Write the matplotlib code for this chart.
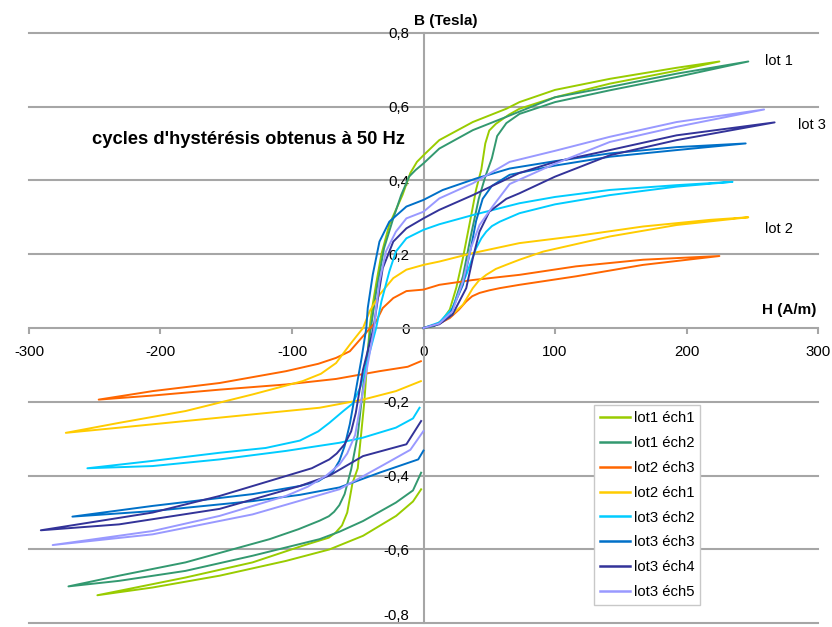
import matplotlib
matplotlib.use("Agg")
import matplotlib.pyplot as plt
from matplotlib.ticker import FuncFormatter

plt.rcParams['font.family'] = ['Liberation Sans', 'DejaVu Sans']
plt.rcParams['axes.unicode_minus'] = False

# each loop: first magnetisation from (0,0), descending branch, ascending branch back to H=0
l1e1_H = [0, 8, 14, 20, 25, 30, 36, 40, 44, 47, 50, 55, 65, 73, 100, 141.7, 192.5, 225,
          192.5, 141.7, 100, 73, 63, 37.5, 12, 0, -5, -10, -16, -26, -32, -36, -39, -41, -45, -50, -54, -58, -62, -67, -72, -92, -130, -181, -248,
          -206, -155, -104.6, -71.6, -46, -20.8, -8, -1.8]
l1e1_B = [0, 0.006, 0.02, 0.05, 0.11, 0.19, 0.30, 0.375, 0.43, 0.50, 0.535, 0.553, 0.578, 0.594, 0.625, 0.662, 0.697, 0.722,
          0.705, 0.675, 0.645, 0.612, 0.594, 0.558, 0.509, 0.468, 0.45, 0.42, 0.36, 0.28, 0.20, 0.12, 0.055, 0.0, -0.2, -0.38, -0.42, -0.50, -0.535, -0.555, -0.568, -0.59, -0.635, -0.676, -0.724,
          -0.703, -0.671, -0.631, -0.60, -0.563, -0.509, -0.47, -0.437]

l1e2_H = [0, 8, 15, 22, 30, 36, 42, 47, 52, 56, 63, 73, 100, 141.7, 192.5, 247,
          192.5, 141.7, 100, 63, 37.5, 12, 0, -6, -11, -17, -23, -30, -36, -40, -45, -50, -55, -60, -64, -68, -72, -79, -95, -117, -181, -231.5, -270,
          -231.5, -181, -130, -79, -64, -46, -21, -8, -1.8]
l1e2_B = [0, 0.005, 0.02, 0.05, 0.14, 0.25, 0.35, 0.41, 0.46, 0.52, 0.555, 0.58, 0.612, 0.644, 0.68, 0.722,
          0.689, 0.653, 0.625, 0.572, 0.536, 0.486, 0.446, 0.428, 0.41, 0.36, 0.297, 0.216, 0.099, 0.0, -0.13, -0.29, -0.383, -0.45, -0.48, -0.498, -0.51, -0.522, -0.545, -0.572, -0.635, -0.671, -0.70,
          -0.685, -0.658, -0.617, -0.572, -0.552, -0.523, -0.473, -0.44, -0.392]

l2e3_H = [0, 12, 20, 27, 32.5, 37, 42.6, 50, 58, 73, 116, 167, 225,
          167, 116, 73, 37.5, 12, 0, -13, -23, -31, -36, -45, -56, -66.5, -80, -104.6, -155, -206, -247,
          -206, -155, -104.6, -66.5, -33.5, -12, -2]
l2e3_B = [0, 0.012, 0.027, 0.05, 0.072, 0.086, 0.095, 0.102, 0.108, 0.117, 0.14, 0.171, 0.195,
          0.185, 0.167, 0.144, 0.13, 0.117, 0.104, 0.10, 0.081, 0.054, 0.018, -0.018, -0.063, -0.081, -0.097, -0.117, -0.149, -0.171, -0.194,
          -0.183, -0.167, -0.153, -0.138, -0.117, -0.105, -0.09]

l2e1_H = [0, 12, 20, 30, 37.5, 42, 47.7, 55, 62.8, 73, 91, 141.7, 192.5, 247,
          218, 167, 116, 73, 37.5, 12, 0, -13, -23, -33.5, -41, -46, -56, -66.5, -78, -92, -130, -181, -231.5, -272,
          -231.5, -181, -130, -79, -46, -21, -2]
l2e1_B = [0, 0.012, 0.031, 0.063, 0.108, 0.128, 0.144, 0.16, 0.171, 0.185, 0.207, 0.248, 0.279, 0.30,
          0.293, 0.275, 0.249, 0.23, 0.203, 0.18, 0.171, 0.158, 0.135, 0.09, 0.045, 0.0, -0.045, -0.095, -0.124, -0.144, -0.18, -0.225, -0.257, -0.284,
          -0.27, -0.252, -0.234, -0.216, -0.194, -0.171, -0.144]

l3e2_H = [0, 12, 22, 32.5, 40, 44, 47.7, 52, 58, 73, 100, 141.7, 192.5, 235,
          192.5, 141.7, 100, 73, 37.5, 12, 0, -13, -21, -26, -32, -36, -42, -48, -54, -61, -71.6, -80, -94, -120, -155, -206, -255.6,
          -206, -155, -104.6, -64, -46, -21, -8, -3]
l3e2_B = [0, 0.015, 0.054, 0.144, 0.216, 0.243, 0.261, 0.276, 0.288, 0.311, 0.335, 0.36, 0.383, 0.396,
          0.387, 0.374, 0.355, 0.338, 0.306, 0.281, 0.266, 0.243, 0.207, 0.153, 0.072, 0.0, -0.08, -0.16, -0.205, -0.225, -0.257, -0.28, -0.305, -0.325, -0.338, -0.36, -0.38,
          -0.374, -0.356, -0.333, -0.311, -0.297, -0.27, -0.245, -0.216]

l3e3_H = [0, 12, 20, 30, 36, 40, 45, 52, 65.5, 100, 141.7, 192.5, 245,
          192.5, 141.7, 100, 65.5, 40, 14.7, 0, -13, -26, -33.5, -38.6, -42.4, -43.5, -47, -52, -56, -60, -64, -69, -80, -94, -130, -206, -267,
          -206, -130, -94, -64, -33.5, -4, 0]
l3e3_B = [0, 0.012, 0.036, 0.117, 0.216, 0.29, 0.35, 0.385, 0.415, 0.44, 0.464, 0.482, 0.50,
          0.49, 0.473, 0.452, 0.432, 0.405, 0.374, 0.347, 0.329, 0.288, 0.234, 0.144, 0.054, 0.0, -0.08, -0.18, -0.26, -0.32, -0.36, -0.39, -0.415, -0.428, -0.45, -0.482, -0.511,
          -0.496, -0.469, -0.452, -0.432, -0.392, -0.356, -0.332]

l3e4_H = [0, 12, 22, 32.5, 37.5, 42.6, 50, 63, 73, 100, 141.7, 192.5, 267,
          192.5, 141.7, 100, 73, 37.5, 12, 0, -13, -23, -31, -35, -38, -46, -51.5, -55, -60, -66, -71.6, -85, -104.6, -155, -206, -291,
          -231.5, -155, -94, -71.6, -46, -13, -1.8]
l3e4_B = [0, 0.01, 0.036, 0.108, 0.189, 0.261, 0.315, 0.35, 0.365, 0.41, 0.468, 0.509, 0.557,
          0.522, 0.482, 0.45, 0.42, 0.36, 0.32, 0.297, 0.27, 0.234, 0.162, 0.072, 0.0, -0.113, -0.23, -0.28, -0.315, -0.34, -0.356, -0.38, -0.401, -0.455, -0.5, -0.548,
          -0.532, -0.49, -0.428, -0.40, -0.347, -0.315, -0.252]

l3e5_H = [0, 12, 22, 30, 36, 42.6, 52.7, 65.5, 100, 141.7, 192.5, 259,
          192.5, 141.7, 100, 65.5, 37.5, 12, 0, -13, -21, -28.6, -33.5, -36, -37.5, -45, -52, -58, -64, -74, -88, -104.6, -155, -206, -282,
          -206, -130, -64, -30, -10, 0]
l3e5_B = [0, 0.012, 0.045, 0.126, 0.216, 0.279, 0.33, 0.39, 0.445, 0.504, 0.545, 0.592,
          0.558, 0.518, 0.48, 0.45, 0.392, 0.351, 0.315, 0.297, 0.261, 0.207, 0.126, 0.054, 0.0, -0.15, -0.29, -0.34, -0.37, -0.40, -0.43, -0.455, -0.509, -0.55, -0.588,
          -0.559, -0.505, -0.437, -0.37, -0.33, -0.279]

labels = ['lot1 éch1', 'lot1 éch2', 'lot2 éch3', 'lot2 éch1',
          'lot3 éch2', 'lot3 éch3', 'lot3 éch4', 'lot3 éch5']
colors = ['#99CC00', '#339970', '#FF6600', '#FFCC00',
          '#00CCFF', '#0070C8', '#333399', '#9999FF']
series = [(l1e1_H, l1e1_B), (l1e2_H, l1e2_B), (l2e3_H, l2e3_B), (l2e1_H, l2e1_B),
          (l3e2_H, l3e2_B), (l3e3_H, l3e3_B), (l3e4_H, l3e4_B), (l3e5_H, l3e5_B)]

grey = '#a6a6a6'

fig = plt.figure(figsize=(8.32, 6.27), dpi=100)
ax = fig.add_axes([29/832, 1-623.3/627, (818-29)/832, (623.3-32.7)/627])
ax.set_xlim(-300, 300)
ax.set_ylim(-0.8, 0.8)

# horizontal grid
for v in [-0.8, -0.6, -0.4, -0.2, 0.2, 0.4, 0.6, 0.8]:
    ax.axhline(v, color=grey, lw=1.5, clip_on=False, zorder=1)

for (h, b), lab, c in zip(series, labels, colors):
    ax.plot(h, b, color=c, lw=1.4, label=lab, zorder=3, solid_joinstyle='round')

ax.spines['left'].set_position(('data', 0))
ax.spines['bottom'].set_position(('data', 0))
ax.spines['right'].set_visible(False)
ax.spines['top'].set_visible(False)
for s in ['left', 'bottom']:
    ax.spines[s].set_color(grey)
    ax.spines[s].set_linewidth(1.5)
    ax.spines[s].set_zorder(2)

ax.set_xticks([-300, -200, -100, 0, 100, 200, 300])
ax.set_yticks([-0.8, -0.6, -0.4, -0.2, 0, 0.2, 0.4, 0.6, 0.8])
ax.xaxis.set_major_formatter(FuncFormatter(lambda v, p: '%d' % v))
ax.yaxis.set_major_formatter(FuncFormatter(lambda v, p: '0' if abs(v) < 1e-9 else ('%.1f' % v).replace('.', ',')))
ax.tick_params(axis='x', direction='out', length=4.5, width=1.5, color=grey, labelsize=10.8, pad=8)
ax.tick_params(axis='y', length=0, labelsize=10.8, pad=10)
# bottom label sits on the figure edge, lift it a little so it stays readable
ax.get_yticklabels()[0].set_verticalalignment('bottom')

ax.text(-6.9, 0.833, 'B (Tesla)', fontsize=11, fontweight='bold', va='center', ha='left', clip_on=False)
ax.text(299, 0.049, 'H (A/m)', fontsize=11, fontweight='bold', va='center', ha='right')
ax.text(-252, 0.511, "cycles d'hystérésis obtenus à 50 Hz", fontsize=13.2, fontweight='bold', va='center', ha='left')
ax.text(259.7, 0.722, 'lot 1', fontsize=10.5, va='center', ha='left')
ax.text(284.8, 0.549, 'lot 3', fontsize=10.5, va='center', ha='left', clip_on=False)
ax.text(259.7, 0.268, 'lot 2', fontsize=10.5, va='center', ha='left')

leg = ax.legend(loc='upper left', bbox_to_anchor=(594/832, 1-405/627), bbox_transform=fig.transFigure,
                fontsize=10.7, frameon=True, fancybox=False, framealpha=1, edgecolor='#c8c8c8',
                handlelength=2.0, handletextpad=0.25, borderpad=0.42, labelspacing=0.73, borderaxespad=0)
leg.get_frame().set_linewidth(1.0)
for l in leg.get_lines():
    l.set_linewidth(1.8)

fig.savefig('out.png', dpi=100)
